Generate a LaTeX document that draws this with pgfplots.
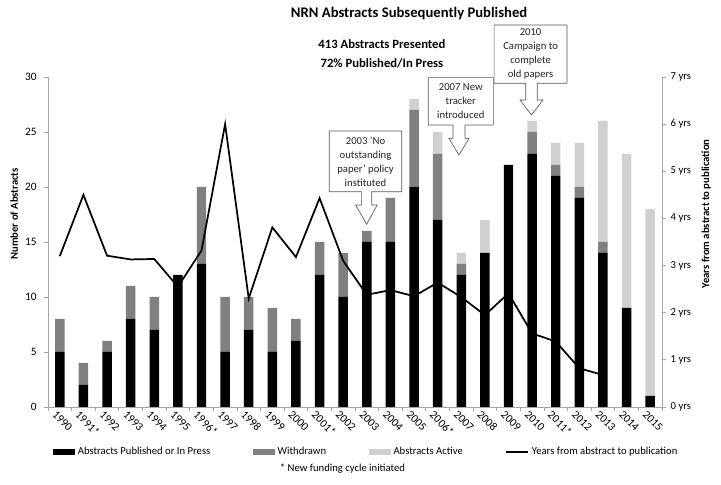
\documentclass[border=0pt]{standalone}
\usepackage{fontspec}
\setmainfont{Carlito}
\usepackage{pgfplots}
\usepackage{pgfplotstable}
\pgfplotsset{compat=1.18}

\definecolor{wdc}{HTML}{808080}
\definecolor{actc}{HTML}{D0D0D0}
\definecolor{axc}{HTML}{A6A6A6}
\definecolor{boxc}{HTML}{595959}

\pgfplotsset{
  barlegend/.style={legend image code/.code={\fill[##1] (0pt,-2pt) rectangle (16.5pt,2pt);}},
  linelegend/.style={legend image code/.code={\draw[##1] (0pt,0pt) -- (16.5pt,0pt);}},
}

% abstracts per year: published/in press, withdrawn, still active
\pgfplotstableread{
idx pub wd act
0  5 3 0
1  2 2 0
2  5 1 0
3  8 3 0
4  7 3 0
5  12 0 0
6  13 7 0
7  5 5 0
8  7 3 0
9  5 4 0
10 6 2 0
11 12 3 0
12 10 4 0
13 15 1 0
14 15 4 0
15 20 7 1
16 17 6 2
17 12 1 1
18 14 0 3
19 22 0 0
20 23 2 1
21 21 1 2
22 19 1 4
23 14 1 11
24 9 0 14
25 1 0 17
}\abstracts

% mean years from abstract to publication
\pgfplotstableread{
idx yrs
0  3.20
1  4.50
2  3.21
3  3.13
4  3.14
5  2.55
6  3.32
7  6.00
8  2.30
9  3.81
10 3.18
11 4.43
12 3.10
13 2.38
14 2.48
15 2.35
16 2.64
17 2.33
18 1.95
19 2.41
20 1.56
21 1.39
22 0.82
23 0.68
}\lag

\newcommand{\sm}{\fontsize{8}{10.5}\selectfont}

\begin{document}
\begin{tikzpicture}
\useasboundingbox (-36pt,-58.5pt) rectangle (504.75pt,305.25pt);
\begin{axis}[
  scale only axis, width=460.5pt, height=247.5pt,
  xmin=-0.5, xmax=25.5, ymin=0, ymax=30,
  ybar stacked, bar width=7.1pt,
  axis x line*=bottom, axis y line*=left,
  axis line style={axc, line width=0.6pt},
  tick align=outside, major tick length=3pt,
  tick style={axc, line width=0.6pt},
  ytick={0,5,...,30},
  y tick label style={font=\fontsize{8.5}{10}\selectfont, xshift=-2pt, /pgf/number format/assume math mode=true},
  xtick={-0.5,0.5,...,25.5}, xticklabels={},
  extra x ticks={0,...,25},
  extra x tick labels={1990,1991*,1992,1993,1994,1995,1996*,1997,1998,1999,2000,2001*,2002,2003,2004,2005,2006*,2007,2008,2009,2010,2011*,2012,2013,2014,2015},
  extra x tick style={major tick length=0pt,
    tick label style={rotate=-45, anchor=north west, font=\fontsize{8.5}{10}\selectfont, inner sep=1pt, xshift=-1pt, yshift=-2pt}},
  clip=false,
  barlegend,
  legend style={at={(0.008,-0.136)}, anchor=west, draw=none, fill=none,
    inner sep=0pt, font=\sm, legend columns=4,
    /tikz/every even column/.append style={column sep=30pt}},
  legend cell align=left,
]
\addplot[fill=black, draw=none] table[x=idx, y=pub]{\abstracts};
\addplot[fill=wdc, draw=none] table[x=idx, y=wd]{\abstracts};
\addplot[fill=actc, draw=none] table[x=idx, y=act]{\abstracts};
\addlegendimage{linelegend, black, line width=1.3pt}
\legend{Abstracts Published or In Press, Withdrawn, Abstracts Active, Years from abstract to publication}

% callout outlines
\draw[boxc, fill=white, line width=0.5pt] (axis cs:11.41,25.09) -- (axis cs:14.48,25.09) -- (axis cs:14.48,19.57)
  -- (axis cs:13.21,19.57) -- (axis cs:13.21,18.36) -- (axis cs:13.44,18.36) -- (axis cs:12.99,16.61)
  -- (axis cs:12.53,18.36) -- (axis cs:12.78,18.36) -- (axis cs:12.78,19.57) -- (axis cs:11.41,19.57) -- cycle;
\draw[boxc, fill=white, line width=0.5pt] (axis cs:15.60,29.94) -- (axis cs:18.36,29.94) -- (axis cs:18.36,25.64)
  -- (axis cs:17.16,25.64) -- (axis cs:17.16,24.43) -- (axis cs:17.33,24.43) -- (axis cs:16.90,22.91)
  -- (axis cs:16.48,24.43) -- (axis cs:16.65,24.43) -- (axis cs:16.65,25.64) -- (axis cs:15.60,25.64) -- cycle;
\draw[boxc, fill=white, line width=0.5pt] (axis cs:18.39,34.73) -- (axis cs:21.48,34.73) -- (axis cs:21.48,29.43)
  -- (axis cs:20.22,29.43) -- (axis cs:20.22,27.91) -- (axis cs:20.46,27.91) -- (axis cs:19.97,26.55)
  -- (axis cs:19.49,27.91) -- (axis cs:19.73,27.91) -- (axis cs:19.73,29.43) -- (axis cs:18.39,29.43) -- cycle;
\coordinate (co1) at (axis cs:12.945,22.33);
\coordinate (co2) at (axis cs:16.98,27.79);
\coordinate (co3) at (axis cs:19.935,32.08);

% titles and labels
\coordinate (t1) at (axis cs:14.79,35.73);
\coordinate (t2) at (axis cs:13.64,33.0);
\coordinate (t3) at (axis cs:13.64,31.27);
\coordinate (yl) at (rel axis cs:-0.055,0.585);
\coordinate (yr) at (rel axis cs:1.072,0.585);
\coordinate (fn) at (rel axis cs:0.37,-0.188);
\end{axis}

\begin{axis}[
  scale only axis, width=460.5pt, height=247.5pt,
  xmin=-0.5, xmax=25.5, ymin=0, ymax=7,
  axis x line=none, axis y line*=right,
  axis line style={axc, line width=0.6pt},
  tick align=outside, major tick length=3pt,
  tick style={axc, line width=0.6pt},
  ytick={0,...,7},
  yticklabels={0 yrs,1 yrs,2 yrs,3 yrs,4 yrs,5 yrs,6 yrs,7 yrs},
  y tick label style={font=\sm},
]
\addplot[black, line width=1.3pt, mark=none] table[x=idx, y=yrs]{\lag};
\end{axis}

\node[font=\sm, align=center, text=black!85] at (co1) {2003 'No\\outstanding\\paper' policy\\instituted};
\node[font=\sm, align=center, text=black!85] at (co2) {2007 New\\tracker\\introduced};
\node[font=\sm, align=center, text=black!85] at (co3) {2010\\Campaign to\\complete\\old papers};
\node[font=\fontsize{11}{13}\selectfont\bfseries] at (t1) {NRN Abstracts Subsequently Published};
\node[font=\fontsize{9.5}{11}\selectfont\bfseries] at (t2) {413 Abstracts Presented};
\node[font=\fontsize{9.5}{11}\selectfont\bfseries] at (t3) {72\% Published/In Press};
\node[font=\sm\bfseries, rotate=90] at (yl) {Number of Abstracts};
\node[font=\sm\bfseries, rotate=90] at (yr) {Years from abstract to publication};
\node[font=\sm, anchor=west] at (fn) {* New funding cycle initiated};
\end{tikzpicture}
\end{document}
